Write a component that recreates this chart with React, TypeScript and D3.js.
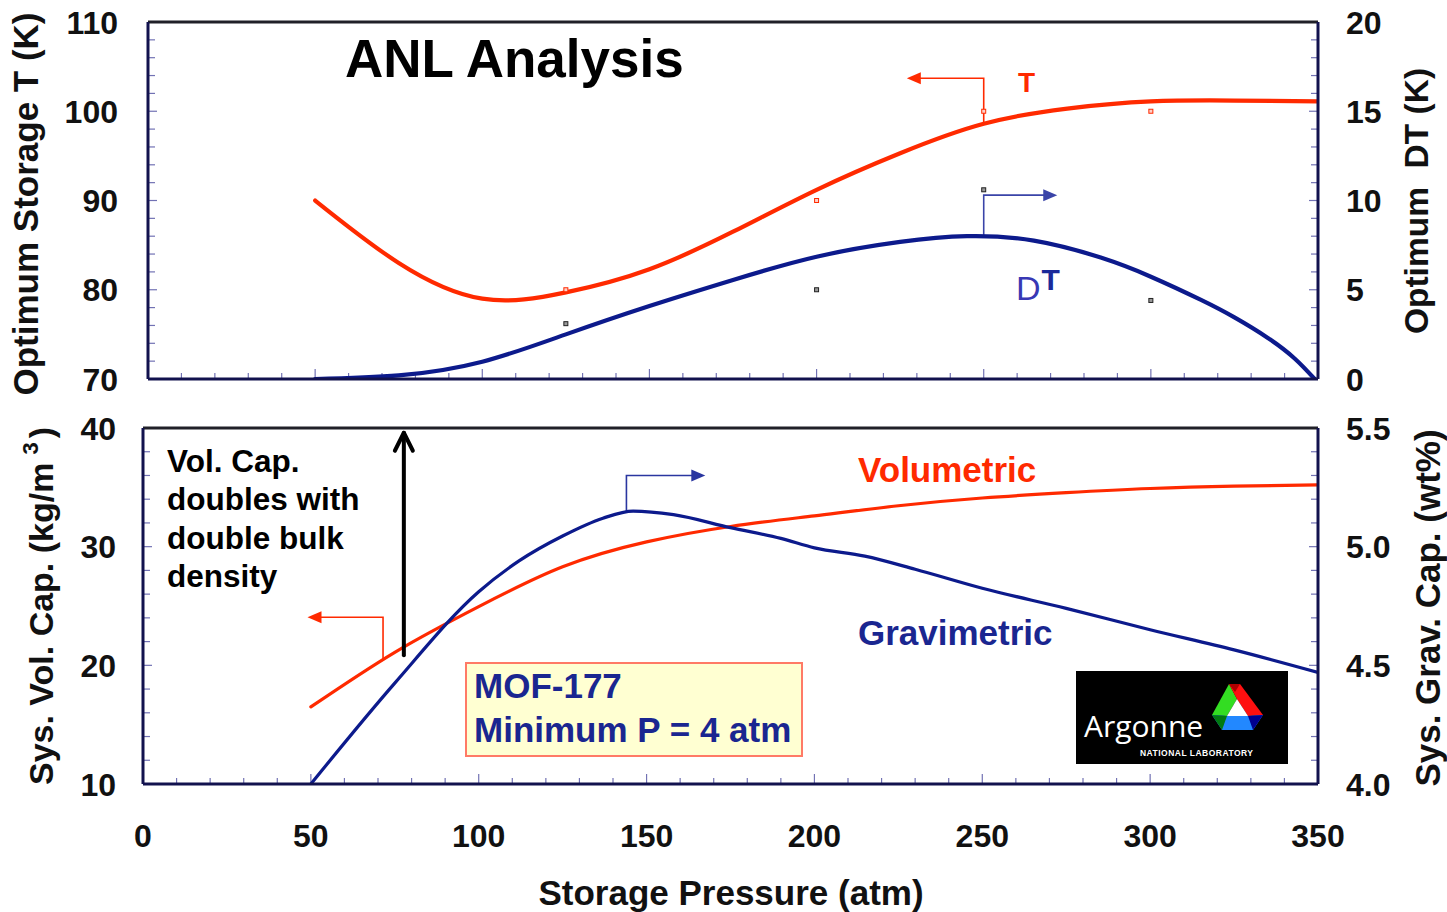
import React from "react";
import * as d3 from "d3";

// ---- Upper panel: optimum storage temperature (left axis) and ΔT (right axis)
const pressureT = [50, 75, 100, 125, 150, 175, 200, 225, 250, 275, 300, 325, 350];
const storageT = [90.0, 83.0, 79.0, 79.7, 82.3, 86.5, 91.2, 95.3, 98.6, 100.3, 101.1, 101.2, 101.1];

const pressureDT = [50, 75, 100, 125, 150, 175, 200, 225, 245, 265, 285, 300, 315, 325, 335, 343, 349];
const deltaT = [0, 0.2, 0.97, 2.5, 4.09, 5.55, 6.85, 7.68, 8.0, 7.75, 6.8, 5.73, 4.43, 3.45, 2.3, 1.15, 0];

// sample points
const pointsTP = [125, 200, 250, 300];
const pointsTV = [80, 90, 100, 100];
const pointsDTP = [125, 200, 250, 300];
const pointsDTV = [3.1, 5.0, 10.6, 4.4];

// ---- Lower panel: system volumetric (left) and gravimetric (right) capacity
const pressureVol = [50, 75, 100, 125, 150, 175, 200, 225, 250, 275, 300, 325, 350];
const volCap = [16.5, 21.1, 24.95, 28.3, 30.4, 31.7, 32.6, 33.45, 34.1, 34.55, 34.9, 35.1, 35.2];

const pressureGrav = [50, 75, 100, 112, 125, 137, 146, 158, 175, 190, 200, 215, 230, 250, 275, 300, 325, 350];
const gravCap = [4.0, 4.425, 4.81, 4.94, 5.045, 5.12, 5.15, 5.135, 5.08, 5.035, 4.995, 4.96, 4.905, 4.825, 4.74, 4.65, 4.565, 4.47];

// ---- tick labels
const pressureTicks = [0, 50, 100, 150, 200, 250, 300, 350];
const storageTTicks = [70, 80, 90, 100, 110];
const deltaTTicks = [0, 5, 10, 15, 20];
const volTicks = [10, 20, 30, 40];
const gravTicks = [4.0, 4.5, 5.0, 5.5];

// ---- axis pointer callouts, in data units: [pressure at stem, value at foot, value at elbow, pressure at tip]
const calloutT = [250, 98.6, 103.7, 227];
const calloutDT = [250, 8.0, 10.3, 272];
const calloutVol = [71.5, 20.4, 24.05, 49];
const calloutGrav = [144, 5.15, 5.3, 167.5];
// upward arrow: [pressure, from, to] on volumetric axis
const doubleArrow = [77.7, 20.85, 39.6];

const W = 1447;
const H = 912;
const RED = "#ff2a00";
const BLUE = "#0c1a8c";
const FRAME = "#12124e";
const TICK = "#7272b4";
const FONT = "'Liberation Sans', Arial, Helvetica, sans-serif";

const xTop = d3.scaleLinear().domain([0, 350]).range([148, 1318]);
const xBot = d3.scaleLinear().domain([0, 350]).range([143, 1318]);
const yT = d3.scaleLinear().domain([70, 110]).range([379, 22]);
const yDT = d3.scaleLinear().domain([0, 20]).range([379, 22]);
const yVol = d3.scaleLinear().domain([10, 40]).range([784, 428]);
const yGrav = d3.scaleLinear().domain([4, 5.5]).range([784, 428]);

function linePath(xs: number[], ys: number[], sx: any, sy: any, curve: any = d3.curveMonotoneX) {
  const gen = d3
    .line<number>()
    .x((_, i) => sx(xs[i]))
    .y((d) => sy(d))
    .curve(curve);
  return gen(ys) || "";
}

function arrowHead(tipX: number, tipY: number, dir: "left" | "right", len = 14, half = 6) {
  const s = dir === "left" ? 1 : -1;
  return `M${tipX},${tipY}L${tipX + s * len},${tipY - half}L${tipX + s * len},${tipY + half}Z`;
}

function Callout({ c, sx, sy, color, dir }: any) {
  const [p, v0, v1, pTip] = c;
  const x = sx(p);
  const y0 = sy(v0);
  const y1 = sy(v1);
  const xt = sx(pTip);
  const s = dir === "left" ? 1 : -1;
  return (
    <g>
      <path d={`M${x},${y0}V${y1}H${xt + s * 12}`} fill="none" stroke={color} strokeWidth={1.6} />
      <path d={arrowHead(xt, y1, dir)} fill={color} />
    </g>
  );
}

function Frame({ b }: any) {
  return (
    <g>
      <line x1={b.left} x2={b.right} y1={b.top} y2={b.top} stroke="#202028" strokeWidth={3} />
      <line x1={b.left} x2={b.right} y1={b.bottom} y2={b.bottom} stroke={FRAME} strokeWidth={3} />
      <line x1={b.left} x2={b.left} y1={b.top} y2={b.bottom} stroke={FRAME} strokeWidth={3} />
      <line x1={b.right} x2={b.right} y1={b.top} y2={b.bottom} stroke={FRAME} strokeWidth={3} />
    </g>
  );
}

export default function App() {
  const topB = { left: 148, right: 1318, top: 22, bottom: 379 };
  const botB = { left: 143, right: 1318, top: 428, bottom: 784 };

  const xMinor = d3.range(0, 351, 10);
  const tMinor = d3.range(70, 110.01, 2);
  const dtMinor = d3.range(0, 20.01, 1);
  const volMinor = d3.range(10, 40.01, 2);
  const gravMinor = d3.range(0, 16).map((i) => 4 + i * 0.1);

  const tickLabel = {
    fontFamily: FONT,
    fontWeight: 700,
    fontSize: 32,
    fill: "#111",
  } as const;
  const title = {
    fontFamily: FONT,
    fontWeight: 700,
    fontSize: 35,
    fill: "#111",
  } as const;

  return (
    <svg
      width={W}
      height={H}
      viewBox={`0 0 ${W} ${H}`}
      style={{ position: "absolute", left: 0, top: 0, background: "#fff" }}
    >
      <defs>
        <clipPath id="clipTop">
          <rect x={topB.left} y={topB.top} width={topB.right - topB.left} height={topB.bottom - topB.top + 1} />
        </clipPath>
        <clipPath id="clipBot">
          <rect x={botB.left} y={botB.top} width={botB.right - botB.left} height={botB.bottom - botB.top + 1} />
        </clipPath>
      </defs>
      <rect x={0} y={0} width={W} height={H} fill="#fff" />

      {/* ---------- upper panel ticks ---------- */}
      <g stroke={TICK} strokeWidth={1.2}>
        {xMinor.map((v) => (
          <line key={"tx" + v} x1={xTop(v)} x2={xTop(v)} y1={topB.bottom} y2={topB.bottom - (v % 50 === 0 ? 10 : 6)} />
        ))}
        {tMinor.map((v) => (
          <line key={"tl" + v} x1={topB.left} x2={topB.left + (Math.round(v) % 10 === 0 ? 9 : 7)} y1={yT(v)} y2={yT(v)} />
        ))}
        {dtMinor.map((v) => (
          <line key={"tr" + v} x1={topB.right} x2={topB.right - (Math.round(v) % 5 === 0 ? 9 : 7)} y1={yDT(v)} y2={yDT(v)} />
        ))}
      </g>

      {/* ---------- lower panel ticks ---------- */}
      <g stroke={TICK} strokeWidth={1.2}>
        {xMinor.map((v) => (
          <line key={"bx" + v} x1={xBot(v)} x2={xBot(v)} y1={botB.bottom} y2={botB.bottom - (v % 50 === 0 ? 10 : 6)} />
        ))}
        {volMinor.map((v) => (
          <line key={"bl" + v} x1={botB.left} x2={botB.left + (Math.round(v) % 10 === 0 ? 9 : 7)} y1={yVol(v)} y2={yVol(v)} />
        ))}
        {gravMinor.map((v, i) => (
          <line key={"br" + i} x1={botB.right} x2={botB.right - (i % 5 === 0 ? 9 : 7)} y1={yGrav(v)} y2={yGrav(v)} />
        ))}
      </g>

      {/* ---------- upper panel content ---------- */}
      <Callout c={calloutT} sx={xTop} sy={yT} color={RED} dir="left" />
      <Callout c={calloutDT} sx={xTop} sy={yDT} color="#3a44a8" dir="right" />

      <g clipPath="url(#clipTop)">
        <path d={linePath(pressureT, storageT, xTop, yT, d3.curveNatural)} fill="none" stroke={RED} strokeWidth={4.2} strokeLinecap="round" />
        <path d={linePath(pressureDT, deltaT, xTop, yDT, d3.curveNatural)} fill="none" stroke={BLUE} strokeWidth={4.2} strokeLinecap="round" />
      </g>

      {pointsTP.map((p, i) => (
        <rect key={"pt" + i} x={xTop(p) - 2} y={yT(pointsTV[i]) - 2} width={4} height={4} fill="#ffd0c8" stroke={RED} strokeWidth={1} />
      ))}
      {pointsDTP.map((p, i) => (
        <rect key={"pd" + i} x={xTop(p) - 2} y={yDT(pointsDTV[i]) - 2} width={4} height={4} fill="#999" stroke="#222" strokeWidth={1} />
      ))}

      <text x={345} y={77} fontFamily={FONT} fontWeight={700} fontSize={53} fill="#000">
        ANL Analysis
      </text>
      <text x={1018} y={92} fontFamily={FONT} fontWeight={700} fontSize={28} fill={RED}>
        T
      </text>
      <text x={1016} y={300} fontFamily={FONT} fontSize={34} fill="#3838b4">
        D
        <tspan fontWeight={700} fontSize={30} fill="#1a2a9a" dy={-10} dx={1}>
          T
        </tspan>
      </text>

      {/* ---------- lower panel content ---------- */}
      <rect x={466} y={663} width={336} height={93} fill="#ffffd2" stroke="#ff7a66" strokeWidth={2} />
      <text x={474} y={698} fontFamily={FONT} fontWeight={700} fontSize={35} fill="#1a2690">
        MOF-177
      </text>
      <text x={474} y={742} fontFamily={FONT} fontWeight={700} fontSize={35} fill="#1a2690">
        Minimum P = 4 atm
      </text>

      <Callout c={calloutVol} sx={xBot} sy={yVol} color={RED} dir="left" />
      <Callout c={calloutGrav} sx={xBot} sy={yGrav} color="#2a36a0" dir="right" />

      <g clipPath="url(#clipBot)">
        <path d={linePath(pressureVol, volCap, xBot, yVol, d3.curveNatural)} fill="none" stroke={RED} strokeWidth={3.2} strokeLinecap="round" />
        <path d={linePath(pressureGrav, gravCap, xBot, yGrav)} fill="none" stroke={BLUE} strokeWidth={3.2} strokeLinecap="round" />
      </g>

      {/* upward arrow */}
      <g stroke="#000" strokeWidth={4} fill="none" strokeLinecap="round" strokeLinejoin="round">
        <line x1={xBot(doubleArrow[0])} x2={xBot(doubleArrow[0])} y1={yVol(doubleArrow[1])} y2={yVol(doubleArrow[2])} />
        <path
          d={`M${xBot(doubleArrow[0]) - 9},${yVol(doubleArrow[2]) + 18}L${xBot(doubleArrow[0])},${yVol(doubleArrow[2])}L${xBot(doubleArrow[0]) + 9},${yVol(doubleArrow[2]) + 18}`}
        />
      </g>

      <g fontFamily={FONT} fontWeight={700} fontSize={31.5} fill="#000">
        <text x={167} y={472}>Vol. Cap.</text>
        <text x={167} y={510}>doubles with</text>
        <text x={167} y={549}>double bulk</text>
        <text x={167} y={587}>density</text>
      </g>

      <text x={858} y={482} fontFamily={FONT} fontWeight={700} fontSize={35} fill={RED}>
        Volumetric
      </text>
      <text x={858} y={645} fontFamily={FONT} fontWeight={700} fontSize={35} fill="#1a2690">
        Gravimetric
      </text>

      {/* Argonne logo */}
      <g>
        <rect x={1076} y={671} width={212} height={93} fill="#000" />
        <text x={1084} y={737} fontFamily="'Open Sans', sans-serif" fontSize={30} fill="#fff">
          Argonne
        </text>
        <text x={1140} y={756} fontFamily={FONT} fontWeight={700} fontSize={8.5} fill="#fff" textLength={113} lengthAdjust="spacing">
          NATIONAL LABORATORY
        </text>
        <polygon points="1229,684 1237,699 1227,716 1212,715" fill="#33dd22" />
        <polygon points="1229,684 1240,684 1263,715 1248,716 1237,699" fill="#ff1010" />
        <polygon points="1227,716 1248,716 1263,715 1253,730 1222,730 1212,715" fill="#2288ff" />
        <polygon points="1237,699 1227,716 1248,716" fill="#fff" />
        <polygon points="1229,684 1240,684 1235,692" fill="#b00000" />
        <polygon points="1212,715 1227,716 1222,730" fill="#007a10" />
        <polygon points="1263,715 1248,716 1253,730" fill="#000090" />
      </g>

      {/* frames */}
      <Frame b={topB} />
      <Frame b={botB} />

      {/* ---------- tick labels ---------- */}
      {storageTTicks.map((v) => (
        <text key={"lt" + v} x={118} y={yT(v)} dy="0.36em" textAnchor="end" {...tickLabel}>
          {v}
        </text>
      ))}
      {deltaTTicks.map((v) => (
        <text key={"rt" + v} x={1346} y={yDT(v)} dy="0.36em" textAnchor="start" {...tickLabel}>
          {v}
        </text>
      ))}
      {volTicks.map((v) => (
        <text key={"lb" + v} x={116} y={yVol(v)} dy="0.36em" textAnchor="end" {...tickLabel}>
          {v}
        </text>
      ))}
      {gravTicks.map((v) => (
        <text key={"rb" + v} x={1346} y={yGrav(v)} dy="0.36em" textAnchor="start" {...tickLabel}>
          {d3.format(".1f")(v)}
        </text>
      ))}
      {pressureTicks.map((v) => (
        <text key={"bx" + v} x={xBot(v)} y={847} textAnchor="middle" {...tickLabel}>
          {v}
        </text>
      ))}

      {/* ---------- axis titles ---------- */}
      <text x={731} y={905} textAnchor="middle" {...title}>
        Storage Pressure (atm)
      </text>
      <text transform="translate(38,204) rotate(-90)" textAnchor="middle" {...title}>
        Optimum Storage T (K)
      </text>
      <text transform="translate(1428,201) rotate(-90)" textAnchor="middle" {...title} fontSize={33.5}>
        Optimum{"\u00a0\u00a0"}DT (K)
      </text>
      <text transform="translate(53,606) rotate(-90)" textAnchor="middle" {...title} fontSize={34}>
        Sys. Vol. Cap. (kg/m
        <tspan fontSize={22} dy={-15} dx={8}>
          3
        </tspan>
        <tspan dy={15} dx={4}>
          )
        </tspan>
      </text>
      <text transform="translate(1440,608) rotate(-90)" textAnchor="middle" {...title}>
        Sys. Grav. Cap. (wt%)
      </text>
    </svg>
  );
}
